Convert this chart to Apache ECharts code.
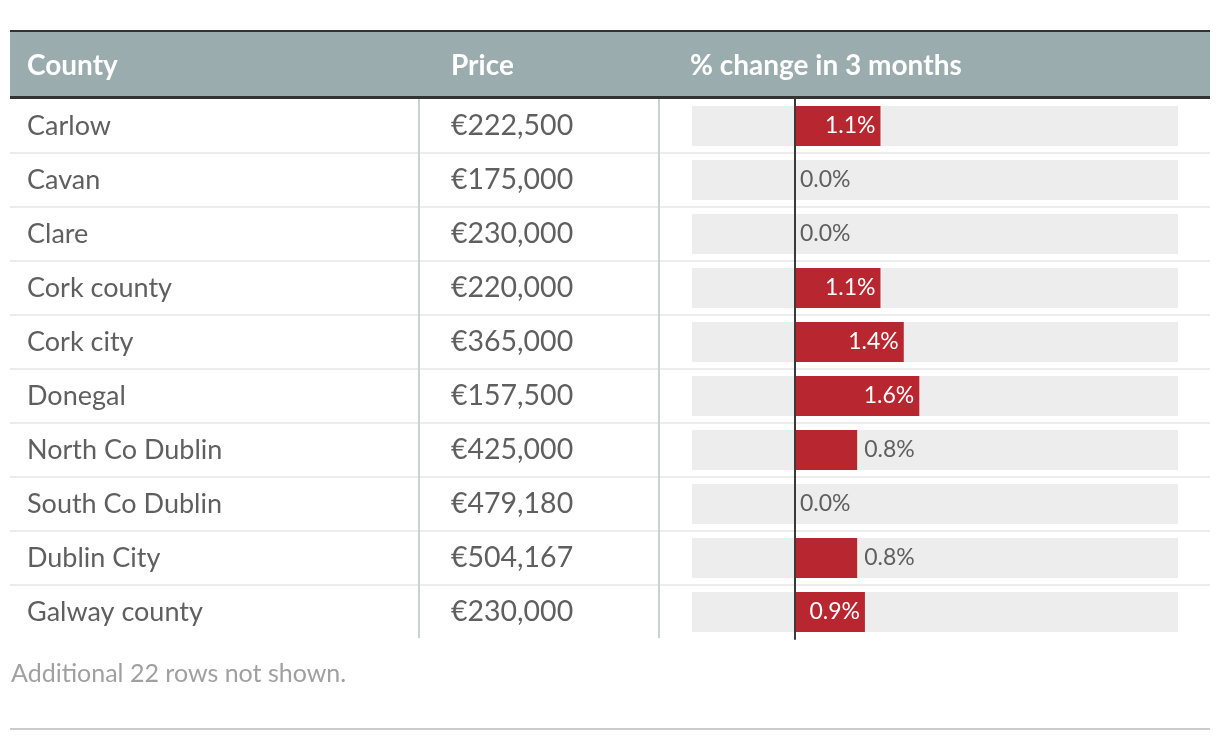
<!DOCTYPE html>
<html>
<head>
<meta charset="utf-8">
<script src="https://cdn.jsdelivr.net/npm/echarts@6/dist/echarts.min.js"></script>
<style>
html,body{margin:0;padding:0;background:#fff;}
#chart{width:1220px;height:740px;}
</style>
</head>
<body>
<div id="chart"></div>
<script>
const counties = ['Carlow','Cavan','Clare','Cork county','Cork city','Donegal','North Co Dublin','South Co Dublin','Dublin City','Galway county'];
const prices = ['€222,500','€175,000','€230,000','€220,000','€365,000','€157,500','€425,000','€479,180','€504,167','€230,000'];
const changes = [1.1, 0.0, 0.0, 1.1, 1.4, 1.6, 0.8, 0.0, 0.8, 0.9];
const headers = ['County','Price','% change in 3 months'];
const footnote = 'Additional 22 rows not shown.';

const FONT = 'Lato, "Noto Sans", sans-serif';
const TEXT = '#5f5f5f';

const chart = echarts.init(document.getElementById('chart'), null, {renderer:'canvas'});

const barData = changes.map(v => {
  const inside = v >= 0.9;
  return {
    value: v,
    label: inside
      ? {position:'insideRight', color:'#ffffff', distance:5}
      : {position:'right', color:TEXT, distance:v === 0 ? 5 : 7}
  };
});

const option = {
  animation:false,
  backgroundColor:'#ffffff',
  grid:[
    {left:692, width:486, top:99, height:540, containLabel:false, outerBoundsMode:'none'},
    {left:10, width:1200, top:99, height:540, containLabel:false, outerBoundsMode:'none'}
  ],
  xAxis:[
    {gridIndex:0, type:'value', min:-1.326, max:4.93, show:false},
    {gridIndex:1, type:'value', min:0, max:1, show:false}
  ],
  yAxis:[
    { // zero line axis
      gridIndex:0, type:'category', data:counties, inverse:true, z:20,
      axisLine:{show:true, onZero:true, lineStyle:{color:'#3a3a3a', width:2}},
      axisTick:{show:false}, axisLabel:{show:false}, splitLine:{show:false}
    },
    { // county labels
      gridIndex:0, type:'category', data:counties, inverse:true, position:'left', offset:0,
      axisLine:{show:false, onZero:false}, axisTick:{show:false}, splitLine:{show:false},
      axisLabel:{show:true, align:'left', margin:665, fontSize:27, color:TEXT, fontFamily:FONT, padding:[6,0,0,0]}
    },
    { // price labels
      gridIndex:0, type:'category', data:prices, inverse:true, position:'left', offset:0,
      axisLine:{show:false, onZero:false}, axisTick:{show:false}, splitLine:{show:false},
      axisLabel:{show:true, align:'left', margin:241, fontSize:28.5, color:TEXT, fontFamily:FONT, padding:[6,0,0,0]}
    },
    { // row separators
      gridIndex:1, type:'category', data:counties, inverse:true,
      axisLine:{show:false, onZero:false}, axisTick:{show:false}, axisLabel:{show:false},
      splitLine:{show:true, showMinLine:false, showMaxLine:false, lineStyle:{color:'#ececec', width:2}}
    }
  ],
  series:[
    {
      type:'bar', xAxisIndex:0, yAxisIndex:0,
      data:barData, barWidth:40,
      showBackground:true,
      backgroundStyle:{color:'#ededed'},
      itemStyle:{color:'#b8272f'},
      label:{show:true, fontSize:23, fontFamily:FONT, padding:[2,0,0,0],
        formatter:p => p.value.toFixed(1) + '%'},
      z:2
    }
  ],
  graphic:[
    {type:'rect', shape:{x:10, y:31, width:1200, height:66}, style:{fill:'#9aacae'}, z:10},
    {type:'rect', shape:{x:10, y:30, width:1200, height:2}, style:{fill:'#333333'}, z:11},
    {type:'rect', shape:{x:10, y:96, width:1200, height:3}, style:{fill:'#333333'}, z:11},
    {type:'text', x:27, y:66, style:{text:headers[0], fill:'#ffffff', font:'bold 28px ' + FONT, textVerticalAlign:'middle'}, z:12},
    {type:'text', x:451, y:66, style:{text:headers[1], fill:'#ffffff', font:'bold 28px ' + FONT, textVerticalAlign:'middle'}, z:12},
    {type:'text', x:690, y:66, style:{text:headers[2], fill:'#ffffff', font:'bold 28px ' + FONT, textVerticalAlign:'middle'}, z:12},
    {type:'rect', shape:{x:418, y:99, width:2, height:539}, style:{fill:'#c9d2d4'}, z:5},
    {type:'rect', shape:{x:658, y:99, width:2, height:539}, style:{fill:'#c9d2d4'}, z:5},
    {type:'text', x:11, y:674, style:{text:footnote, fill:'#a0a0a0', font:'25px ' + FONT, textVerticalAlign:'middle'}, z:12},
    {type:'rect', shape:{x:10, y:728, width:1200, height:2}, style:{fill:'#cccccc'}, z:5}
  ]
};
chart.setOption(option);
</script>
</body>
</html>
